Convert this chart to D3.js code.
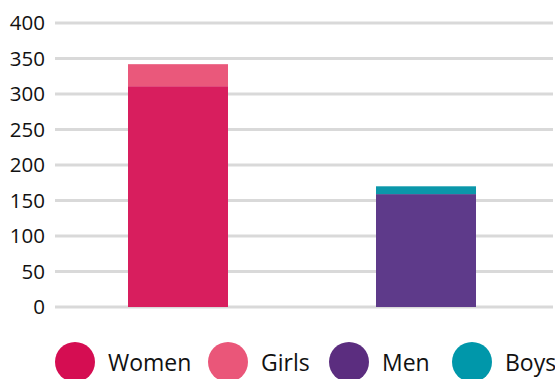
<!DOCTYPE html>
<html><head><meta charset="utf-8">
<script src="https://cdn.jsdelivr.net/npm/d3@7"></script>
<style>body{margin:0;background:#fff}svg{display:block}text{font-family:"Open Sans",sans-serif;fill:#111}</style>
</head><body>
<script>
const groups = ["Female", "Male"];
const adults = [311, 159];
const children = [31, 11];
const seriesNames = ["Women", "Girls", "Men", "Boys"];
const seriesColors = ["#d81e5e", "#ea587b", "#5e3a8a", "#0b97aa"];
const legendColors = ["#d50d52", "#ea5679", "#5b2d7f", "#0097aa"];
const yTicks = [0, 50, 100, 150, 200, 250, 300, 350, 400];

const W = 555, H = 379;
const svg = d3.select("body").append("svg").attr("width", W).attr("height", H);

const y = d3.scaleLinear().domain([0, 400]).range([307, 23]);
const p = 0.5968;
const x = d3.scaleBand().domain(groups).range([54, 550]).paddingInner(p).paddingOuter(p / 2);

// gridlines
svg.append("g").selectAll("line").data(yTicks).join("line")
  .attr("x1", 55).attr("x2", 553)
  .attr("y1", d => y(d)).attr("y2", d => y(d))
  .attr("stroke", "#d9d9d9").attr("stroke-width", 3);

// axis labels
const axis = d3.axisLeft(y).tickValues(yTicks).tickSize(0).tickPadding(0);
const ag = svg.append("g").attr("transform", "translate(45,0)").call(axis);
ag.select(".domain").remove();
ag.selectAll("text").attr("font-size", 20.5).attr("fill", "#111").attr("font-family", "Open Sans, sans-serif");

// bars
const rows = groups.map((g, i) => ({ g, lower: adults[i], upper: children[i], i }));
const stack = d3.stack().keys(["lower", "upper"])(rows);
const colorFor = (k, i) => k === "lower" ? seriesColors[i * 2] : seriesColors[i * 2 + 1];
svg.append("g").selectAll("g").data(stack).join("g")
  .selectAll("rect").data(s => s.map(d => ({ d, key: s.key }))).join("rect")
  .attr("x", o => x(o.d.data.g))
  .attr("width", x.bandwidth())
  .attr("y", o => y(o.d[1]))
  .attr("height", o => y(o.d[0]) - y(o.d[1]))
  .attr("fill", o => colorFor(o.key, o.d.data.i));

// legend
const legX = [75, 228, 349, 472];
const lg = svg.append("g").selectAll("g").data(seriesNames).join("g")
  .attr("transform", (d, i) => `translate(${legX[i]},362)`);
lg.append("circle").attr("r", 20).attr("fill", (d, i) => legendColors[i]);
lg.append("text").attr("x", 33).attr("y", 9).attr("font-size", 23).text(d => d);
</script>
</body></html>
